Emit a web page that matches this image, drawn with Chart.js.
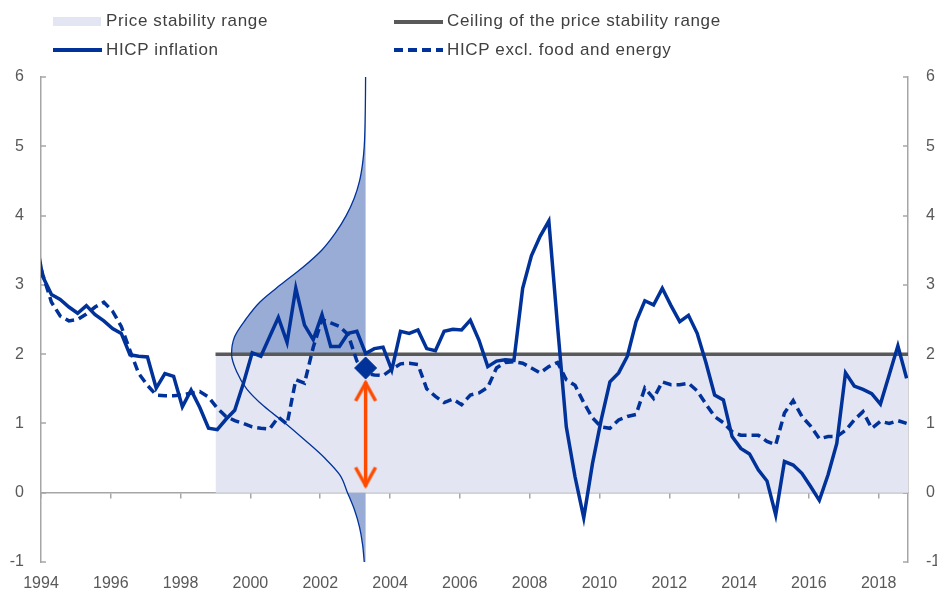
<!DOCTYPE html>
<html>
<head>
<meta charset="utf-8">
<script src="https://cdn.jsdelivr.net/npm/chart.js@4/dist/chart.umd.min.js"></script>
<style>
  html, body { margin: 0; padding: 0; background: #fff; }
  #wrap { position: relative; width: 937px; height: 590px; }
  #chart { position: absolute; left: 0; top: 0; }
  .lg { position: absolute; font: 17px "Liberation Sans", Arial, sans-serif; color: #404040; white-space: nowrap; line-height: 20px; letter-spacing: 0.65px; }
  .mk { position: absolute; }
</style>
</head>
<body>
<div id="wrap">
  <canvas id="chart" width="937" height="590"></canvas>
  <div class="mk" style="left:53px;top:17px;width:48px;height:9px;background:#e3e6f2"></div>
  <div class="lg" style="left:106px;top:11px">Price stability range</div>
  <div class="mk" style="left:394px;top:20px;width:49px;height:3.5px;background:#595959"></div>
  <div class="lg" style="left:447px;top:11px">Ceiling of the price stability range</div>
  <div class="mk" style="left:53px;top:48px;width:49px;height:3.5px;background:#003299"></div>
  <div class="lg" style="left:106px;top:40px">HICP inflation</div>
  <div class="mk" style="left:394px;top:48px;width:49px;height:3.5px;background:repeating-linear-gradient(90deg,#003299 0 9px,transparent 9px 14px)"></div>
  <div class="lg" style="left:447px;top:40px">HICP excl. food and energy</div>
</div>
<script>
'use strict';
// quarterly, 1993Q4 .. 2018Q4 (first point sits left of the axis and is clipped)
const hicp = [3.8,
  3.12, 2.86, 2.79, 2.68, 2.59, 2.70, 2.57, 2.48, 2.37, 2.30, 1.99, 1.97, 1.96, 1.51, 1.72, 1.68,
  1.24, 1.48, 1.23, 0.93, 0.91, 1.06, 1.19, 1.58, 2.02, 1.97, 2.25, 2.53, 2.17, 2.95, 2.42, 2.21,
  2.57, 2.11, 2.11, 2.30, 2.33, 2.01, 2.08, 2.10, 1.77, 2.33, 2.30, 2.35, 2.08, 2.05, 2.33, 2.36,
  2.35, 2.49, 2.20, 1.82, 1.90, 1.92, 1.91, 2.95, 3.42, 3.70, 3.92, 2.40, 0.95, 0.23, -0.36, 0.42,
  1.05, 1.60, 1.73, 1.97, 2.47, 2.77, 2.71, 2.95, 2.70, 2.47, 2.56, 2.30, 1.88, 1.41, 1.34, 0.81,
  0.64, 0.56, 0.33, 0.17, -0.32, 0.45, 0.40, 0.28, 0.09, -0.11, 0.26, 0.71, 1.73, 1.54, 1.49, 1.43,
  1.28, 1.70, 2.12, 1.65];
const core = [3.6,
  3.15, 2.75, 2.55, 2.48, 2.50, 2.58, 2.68, 2.75, 2.62, 2.40, 2.05, 1.72, 1.55, 1.41, 1.40, 1.40,
  1.41, 1.44, 1.46, 1.38, 1.22, 1.10, 1.04, 1.00, 0.95, 0.93, 0.92, 1.09, 0.99, 1.63, 1.58, 2.10,
  2.50, 2.45, 2.40, 2.28, 1.90, 1.72, 1.70, 1.69, 1.78, 1.86, 1.87, 1.85, 1.50, 1.39, 1.30, 1.35,
  1.27, 1.41, 1.44, 1.52, 1.80, 1.88, 1.89, 1.87, 1.80, 1.73, 1.82, 1.88, 1.63, 1.55, 1.30, 1.08,
  0.95, 0.93, 1.05, 1.10, 1.13, 1.51, 1.36, 1.60, 1.56, 1.56, 1.58, 1.47, 1.28, 1.10, 1.01, 0.88,
  0.83, 0.83, 0.83, 0.74, 0.69, 1.15, 1.33, 1.10, 0.96, 0.78, 0.81, 0.81, 0.90, 1.05, 1.17, 0.93,
  1.03, 1.00, 1.04, 1.00];

// density of the inflation expectation, drawn sideways from the 2003 marker
const distLevels = [-1, -0.75, -0.5, -0.25, 0, 0.25, 0.5, 0.75, 1, 1.25, 1.5, 1.75, 2, 2.25, 2.5,
  2.75, 3, 3.25, 3.5, 3.75, 4, 4.25, 4.5, 4.75, 5, 5.5, 6];
const distDensity = [0.004, 0.009, 0.018, 0.033, 0.054, 0.076, 0.122, 0.179, 0.239, 0.304, 0.355,
  0.385, 0.400, 0.391, 0.358, 0.316, 0.254, 0.188, 0.131, 0.090, 0.058, 0.034, 0.018, 0.009, 0.004,
  0.001, 0];

const yearTicks = [1994, 1996, 1998, 2000, 2002, 2004, 2006, 2008, 2010, 2012, 2014, 2016, 2018];
const valueTicks = [-1, 0, 1, 2, 3, 4, 5, 6];

const rangeStart = 1999, rangeFloor = 0, ceiling = 2;
const markerYear = 2003.3, markerValue = 1.8;
const arrowLevels = [0.09, 1.6];

const X_MIN = 1994, X_MAX = 2018.84;
const DIST_SCALE = 9.6; // years of x-axis per density unit
const NAVY = '#003299', GREY = '#595959', AXIS = '#a6a6a6', ORANGE = '#ff4b00';
const FONT = { family: '"Liberation Sans", Arial, sans-serif', size: 16 };

const qPos = (i) => 1993.75 + i * 0.25 + 0.05;
const series = (arr) => arr.map((v, i) => ({ x: qPos(i), y: v }));
const distPt = (i) => ({ x: markerYear - distDensity[i] * DIST_SCALE, y: distLevels[i] });

const curvePts = distLevels.map((_, i) => distPt(i));
const upperTail = distLevels.map((l, i) => l >= ceiling ? distPt(i) : null).filter(Boolean)
  .concat([{ x: markerYear, y: ceiling }]);
const lowerTail = distLevels.map((l, i) => l <= rangeFloor ? distPt(i) : null).filter(Boolean)
  .reverse().concat([{ x: markerYear, y: distLevels[0] }, { x: markerYear, y: rangeFloor }]);

// open chevron used as arrow head
function chevron() {
  const c = document.createElement('canvas');
  c.width = 26; c.height = 44;
  const g = c.getContext('2d');
  g.strokeStyle = ORANGE; g.lineWidth = 3.5; g.lineJoin = 'miter';
  g.beginPath(); g.moveTo(3, 41); g.lineTo(13, 23); g.lineTo(23, 41); g.stroke();
  return c;
}
const head = chevron();

const setTicks = (list) => (s) => { s.ticks = list.map((v) => ({ value: v })); };

// tick marks pointing into the plot on both value axes
const innerTicks = {
  id: 'innerTicks',
  beforeDatasetsDraw(chart) {
    const { ctx } = chart;
    ctx.save();
    ctx.strokeStyle = AXIS; ctx.lineWidth = 1.5;
    ['y', 'y2'].forEach((id) => {
      const s = chart.scales[id];
      const x0 = id === 'y' ? s.right : s.left;
      const dir = id === 'y' ? 1 : -1;
      valueTicks.forEach((v) => {
        const py = Math.round(s.getPixelForValue(v));
        ctx.beginPath(); ctx.moveTo(x0, py); ctx.lineTo(x0 + dir * 5, py); ctx.stroke();
      });
    });
    ctx.restore();
  },
};

const distCommon = { indexAxis: 'y', cubicInterpolationMode: 'monotone', pointRadius: 0 };

new Chart(document.getElementById('chart'), {
  type: 'line',
  data: {
    datasets: [
      { data: [{ x: rangeStart, y: ceiling }, { x: X_MAX, y: ceiling }], fill: 'origin',
        backgroundColor: '#e3e6f2', borderWidth: 0, pointRadius: 0, order: 10 },
      { ...distCommon, data: upperTail, fill: 'shape', backgroundColor: '#99acd6', borderWidth: 0, order: 9 },
      { ...distCommon, data: lowerTail, fill: 'shape', backgroundColor: '#99acd6', borderWidth: 0, order: 9 },
      { data: [{ x: rangeStart, y: ceiling }, { x: X_MAX, y: ceiling }], fill: false,
        borderColor: GREY, borderWidth: 3.5, pointRadius: 0, order: 8 },
      { ...distCommon, data: curvePts, fill: false, borderColor: NAVY, borderWidth: 1.3, order: 7 },
      { data: series(core), fill: false, borderColor: NAVY, borderWidth: 3.5, borderDash: [9, 5],
        pointRadius: 0, clip: 0, order: 6 },
      { data: series(hicp), fill: false, borderColor: NAVY, borderWidth: 3.5, pointRadius: 0, clip: 0, order: 5 },
      { data: [{ x: markerYear, y: markerValue }], showLine: false, pointStyle: 'rectRot',
        pointRadius: 11, backgroundColor: NAVY, borderColor: NAVY, borderWidth: 1, order: 2 },
      { data: arrowLevels.map((v) => ({ x: markerYear, y: v })), fill: false, borderColor: ORANGE,
        borderWidth: 3.5, pointStyle: head, pointRadius: 1, pointRotation: [180, 0], order: 1 },
    ],
  },
  options: {
    responsive: false,
    animation: false,
    events: [],
    layout: { padding: { top: 77, left: 0, right: 0, bottom: 0 } },
    plugins: { legend: { display: false }, tooltip: { enabled: false } },
    scales: {
      x: {
        type: 'linear', min: X_MIN, max: X_MAX, position: 'bottom',
        border: { display: false }, grid: { display: false, drawTicks: false },
        ticks: { font: FONT, color: GREY, padding: 12, maxRotation: 0, autoSkip: false, callback: (v) => String(v) },
        afterBuildTicks: setTicks(yearTicks),
        afterFit: (s) => { s.height = 28; },
      },
      x0: {
        type: 'linear', axis: 'x', min: X_MIN, max: X_MAX, position: { y: 0 },
        border: { color: AXIS, width: 1.5 },
        grid: { drawOnChartArea: false, drawTicks: true, tickLength: 5, color: AXIS, lineWidth: 1.5 },
        ticks: { display: false },
        afterBuildTicks: setTicks(yearTicks),
      },
      y: {
        type: 'linear', min: -1, max: 6, position: 'left',
        border: { color: AXIS, width: 1.5 },
        grid: { drawOnChartArea: false, drawTicks: false },
        ticks: { font: FONT, color: GREY, padding: 17 },
        afterBuildTicks: setTicks(valueTicks),
        afterFit: (s) => { s.width = 41; },
      },
      y2: {
        type: 'linear', min: -1, max: 6, position: 'right',
        border: { color: AXIS, width: 1.5 },
        grid: { drawOnChartArea: false, drawTicks: false },
        ticks: { font: FONT, color: GREY, padding: 18 },
        afterBuildTicks: setTicks(valueTicks),
        afterFit: (s) => { s.width = 29; },
      },
    },
  },
  plugins: [innerTicks],
});
</script>
</body>
</html>
